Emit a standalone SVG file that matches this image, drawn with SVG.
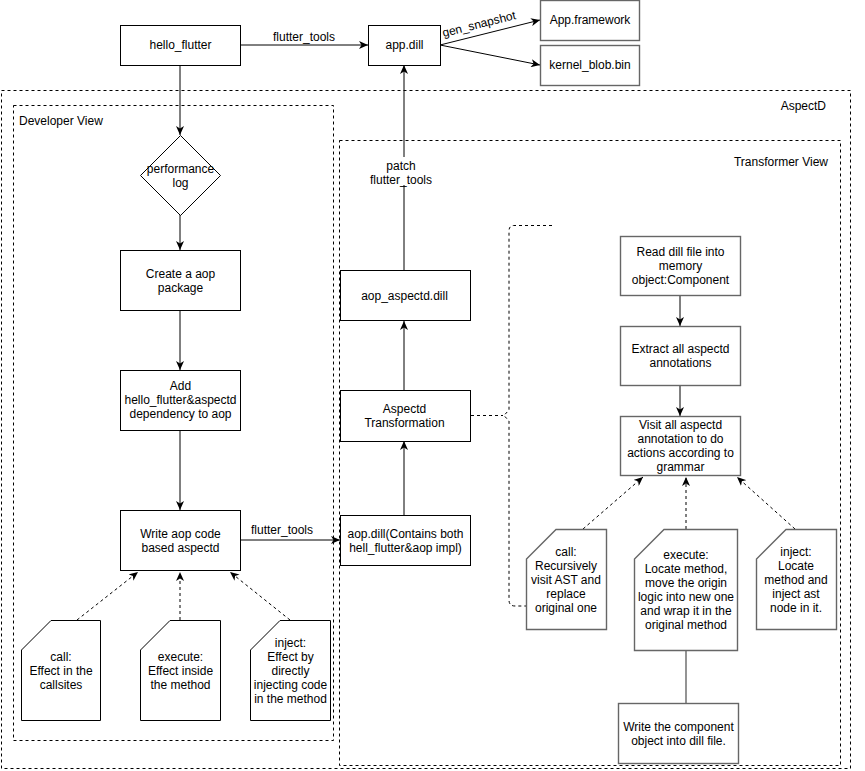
<svg xmlns="http://www.w3.org/2000/svg" width="865" height="771" viewBox="0 0 865 771">
<style>
  text { font-family: "Liberation Sans", Arial, sans-serif; font-size: 12px; fill: #000; }
  .c { text-anchor: middle; }
  .box { fill: #fff; stroke: #000; stroke-width: 1; }
  .gbox { fill: #fff; stroke: #666; stroke-width: 1.4; }
  .cont { fill: none; stroke: #000; stroke-width: 1; stroke-dasharray: 3 3; }
  .edge { fill: none; stroke: #000; stroke-width: 1; }
  .dedge { fill: none; stroke: #000; stroke-width: 1; stroke-dasharray: 3 3; }
</style>
<defs>
  <marker id="arr" markerUnits="userSpaceOnUse" markerWidth="10" markerHeight="8" refX="9" refY="4" orient="auto">
    <path d="M0,0 L9,4 L0,8 L2.5,4 Z" fill="#000"/>
  </marker>
</defs>
<rect width="865" height="771" fill="#fff"/>

<g id="containers">
  <g id="aspectd">
    <rect class="cont" x="1.5" y="90.5" width="849" height="678"/>
    <text x="826" y="110" text-anchor="end">AspectD</text>
  </g>
  <g id="developer-view">
    <rect class="cont" x="13.5" y="105.5" width="320" height="635"/>
    <text x="19" y="125">Developer View</text>
  </g>
  <g id="transformer-view">
    <rect class="cont" x="339.5" y="140.5" width="501" height="625"/>
    <text x="828" y="166" text-anchor="end">Transformer View</text>
  </g>
</g>

<g id="connectors">
  <path class="edge" d="M241,45 L368,45" marker-end="url(#arr)"/>
  <text class="c" x="304" y="41">flutter_tools</text>
  <path class="edge" d="M440,45 L540,20" marker-end="url(#arr)"/>
  <text class="c" transform="translate(480,28) rotate(-14)">gen_snapshot</text>
  <path class="edge" d="M440,45 L540,65" marker-end="url(#arr)"/>
  <path class="edge" d="M180,65 L180,135" marker-end="url(#arr)"/>
  <path class="edge" d="M180,215 L180,250" marker-end="url(#arr)"/>
  <path class="edge" d="M180,310 L180,370" marker-end="url(#arr)"/>
  <path class="edge" d="M180,430 L180,510" marker-end="url(#arr)"/>
  <path class="edge" d="M241,540 L340,540" marker-end="url(#arr)"/>
  <text class="c" x="282" y="534">flutter_tools</text>
  <path class="edge" d="M404,515 L404,441" marker-end="url(#arr)"/>
  <path class="edge" d="M404,390 L404,321" marker-end="url(#arr)"/>
  <path class="edge" d="M404,270 L404,65" marker-end="url(#arr)"/>
  <rect x="368" y="157" width="66" height="28" fill="#fff"/>
  <text class="c" x="401" y="170">patch</text>
  <text class="c" x="401" y="184">flutter_tools</text>
  <path class="edge" d="M680,296 L680,326" marker-end="url(#arr)"/>
  <path class="edge" d="M680,385 L680,416" marker-end="url(#arr)"/>
  <path class="dedge" d="M77,620 L138,572" marker-end="url(#arr)"/>
  <path class="dedge" d="M180,620 L180,572" marker-end="url(#arr)"/>
  <path class="dedge" d="M290,620 L230,572" marker-end="url(#arr)"/>
  <path class="dedge" d="M583,529 L643,477" marker-end="url(#arr)"/>
  <path class="dedge" d="M686,529 L686,477" marker-end="url(#arr)"/>
  <path class="dedge" d="M795,529 L737,477" marker-end="url(#arr)"/>
  <path class="dedge" d="M471,415.5 L503,415.5"/>
  <path class="dedge" d="M552,225.5 L514,225.5 Q509,225.5 509,231 L509,410 L504,415.5 L509,421 L509,600 Q509,606 515,606 L530,606"/>
  <path d="M686,650 L686,703" fill="none" stroke="#666" stroke-width="1.4"/>
</g>

<g id="hello_flutter">
  <rect class="box" x="120.5" y="25.5" width="120" height="40"/>
  <text class="c" x="180.5" y="49">hello_flutter</text>
</g>
<g id="app_dill">
  <rect class="box" x="368.5" y="25.5" width="72" height="40"/>
  <text class="c" x="404.5" y="49">app.dill</text>
</g>
<g id="app_framework">
  <rect class="gbox" x="540.5" y="0.5" width="99" height="40"/>
  <text class="c" x="590" y="24">App.framework</text>
</g>
<g id="kernel_blob">
  <rect class="gbox" x="540.5" y="45.5" width="99" height="40"/>
  <text class="c" x="590" y="69">kernel_blob.bin</text>
</g>

<g id="performance_log">
  <path class="box" d="M180.5,135.5 L220.5,175.5 L180.5,215.5 L140.5,175.5 Z"/>
  <text class="c" x="180.5" y="173">performance</text>
  <text class="c" x="180.5" y="187">log</text>
</g>
<g id="create_aop">
  <rect class="box" x="120.5" y="250.5" width="120" height="60"/>
  <text class="c" x="180.5" y="278">Create a aop</text>
  <text class="c" x="180.5" y="292">package</text>
</g>
<g id="add_dependency">
  <rect class="box" x="120.5" y="370.5" width="120" height="60"/>
  <text class="c" x="180.5" y="390">Add</text>
  <text class="c" x="180.5" y="404">hello_flutter&amp;aspectd</text>
  <text class="c" x="180.5" y="418">dependency to aop</text>
</g>
<g id="write_aop">
  <rect class="box" x="120.5" y="510.5" width="120" height="60"/>
  <text class="c" x="180.5" y="538">Write aop code</text>
  <text class="c" x="180.5" y="552">based aspectd</text>
</g>
<g id="dev_call">
  <path class="box" d="M51,620.5 L100.5,620.5 L100.5,720.5 L21.5,720.5 L21.5,650 Z"/>
  <text class="c" x="61" y="661">call:</text>
  <text class="c" x="61" y="675">Effect in the</text>
  <text class="c" x="61" y="689">callsites</text>
</g>
<g id="dev_execute">
  <path class="box" d="M170,620.5 L220.5,620.5 L220.5,720.5 L140.5,720.5 L140.5,650 Z"/>
  <text class="c" x="180.5" y="661">execute:</text>
  <text class="c" x="180.5" y="675">Effect inside</text>
  <text class="c" x="180.5" y="689">the method</text>
</g>
<g id="dev_inject">
  <path class="box" d="M280,620.5 L330.5,620.5 L330.5,720.5 L250.5,720.5 L250.5,650 Z"/>
  <text class="c" x="290.5" y="647">inject:</text>
  <text class="c" x="290.5" y="661">Effect by</text>
  <text class="c" x="290.5" y="675">directly</text>
  <text class="c" x="290.5" y="689">injecting code</text>
  <text class="c" x="290.5" y="703">in the method</text>
</g>

<g id="aop_dill">
  <rect class="box" x="340.5" y="515.5" width="130" height="50"/>
  <text class="c" x="405.5" y="538">aop.dill(Contains both</text>
  <text class="c" x="405.5" y="552">hell_flutter&amp;aop impl)</text>
</g>
<g id="aspectd_transformation">
  <rect class="box" x="340.5" y="390.5" width="130" height="51"/>
  <text class="c" x="404.5" y="413">Aspectd</text>
  <text class="c" x="404.5" y="427">Transformation</text>
</g>
<g id="aop_aspectd_dill">
  <rect class="box" x="340.5" y="270.5" width="130" height="50"/>
  <text class="c" x="404.5" y="300">aop_aspectd.dill</text>
</g>

<g id="read_dill">
  <rect class="gbox" x="620.5" y="236.5" width="120" height="59"/>
  <text class="c" x="680.5" y="256">Read dill file into</text>
  <text class="c" x="680.5" y="270">memory</text>
  <text class="c" x="680.5" y="284">object:Component</text>
</g>
<g id="extract">
  <rect class="gbox" x="620.5" y="326.5" width="120" height="59"/>
  <text class="c" x="680.5" y="353">Extract all aspectd</text>
  <text class="c" x="680.5" y="367">annotations</text>
</g>
<g id="visit">
  <rect class="gbox" x="620.5" y="416.5" width="120" height="59"/>
  <text class="c" x="680.5" y="429">Visit all aspectd</text>
  <text class="c" x="680.5" y="443">annotation to do</text>
  <text class="c" x="680.5" y="457">actions according to</text>
  <text class="c" x="680.5" y="471">grammar</text>
</g>
<g id="tr_call">
  <path class="gbox" d="M556,529.5 L606.5,529.5 L606.5,629.5 L526.5,629.5 L526.5,559 Z"/>
  <text class="c" x="566" y="556">call:</text>
  <text class="c" x="566" y="570">Recursively</text>
  <text class="c" x="566" y="584">visit AST and</text>
  <text class="c" x="566" y="598">replace</text>
  <text class="c" x="566" y="612">original one</text>
</g>
<g id="tr_execute">
  <path class="gbox" d="M664,529.5 L737.5,529.5 L737.5,650.5 L634.5,650.5 L634.5,559 Z"/>
  <text class="c" x="686" y="559">execute:</text>
  <text class="c" x="686" y="573">Locate method,</text>
  <text class="c" x="686" y="587">move the origin</text>
  <text class="c" x="686" y="601">logic into new one</text>
  <text class="c" x="686" y="615">and wrap it in the</text>
  <text class="c" x="686" y="629">original method</text>
</g>
<g id="tr_inject">
  <path class="gbox" d="M786,529.5 L836.5,529.5 L836.5,629.5 L756.5,629.5 L756.5,559 Z"/>
  <text class="c" x="796" y="556">inject:</text>
  <text class="c" x="796" y="570">Locate</text>
  <text class="c" x="796" y="584">method and</text>
  <text class="c" x="796" y="598">inject ast</text>
  <text class="c" x="796" y="612">node in it.</text>
</g>
<g id="write_component">
  <rect class="gbox" x="618.5" y="703.5" width="120" height="60"/>
  <text class="c" x="678.5" y="731">Write the component</text>
  <text class="c" x="678.5" y="745">object into dill file.</text>
</g>
</svg>
